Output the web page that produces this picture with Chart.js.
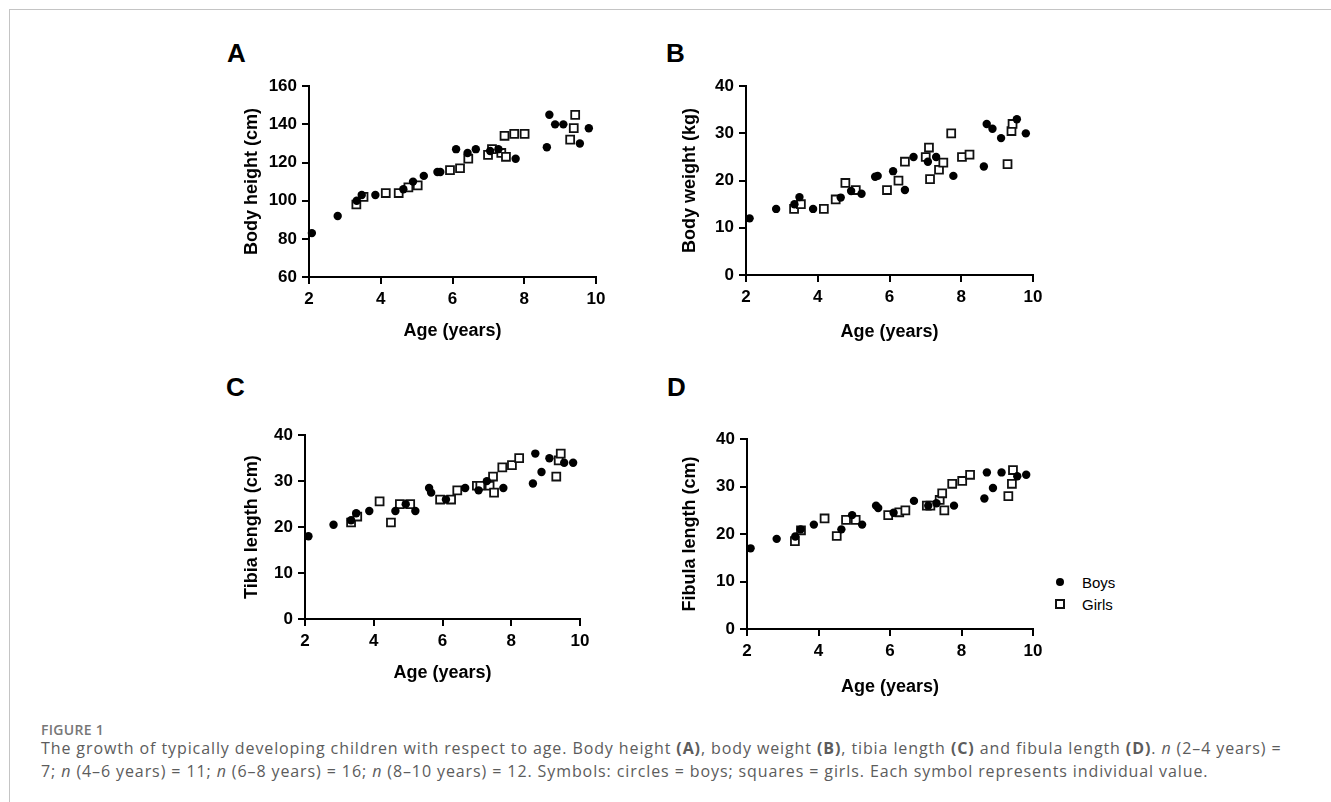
<!DOCTYPE html>
<html>
<head>
<meta charset="utf-8">
<script src="https://cdn.jsdelivr.net/npm/chart.js@4.4.1/dist/chart.umd.min.js"></script>
<style>
    html, body { margin: 0; padding: 0; background: #fff; }
    #page { position: relative; width: 1331px; height: 802px; overflow: hidden; font-family: "Liberation Sans", Arial, sans-serif; }
    .frame { position: absolute; left: 9px; top: 9px; right: -5px; bottom: -5px; border-left: 1px solid #c4c4c4; border-top: 1px solid #c4c4c4; }
    .panel { position: absolute; }
    .letter { position: absolute; font: bold 26px/26px "Liberation Sans", Arial, sans-serif; color: #000; }
    .legend-item { position: absolute; left: 1082px; font: 15px/15px "Liberation Sans", Arial, sans-serif; color: #000; }
    .marker { position: absolute; }
    .marker.circle { width: 8px; height: 8px; border-radius: 50%; background: #000; }
    .marker.square { width: 6px; height: 6px; border: 2px solid #111; background: #fff; }
    .caption { position: absolute; left: 41px; font-family: "Open Sans", sans-serif; }
    .caption-head { top: 723px; font-size: 14px; line-height: 14px; font-weight: 600; color: #777; letter-spacing: 0.3px; }
    .caption-body { top: 737px; font-size: 16px; line-height: 23px; color: #5c5c5c; white-space: nowrap; letter-spacing: 0.9px; }
</style>
</head>
<body>
<div id="page">
    <div class="frame"></div>
</div>
<script>
(() => {
    const ageTicks = [2, 4, 6, 8, 10];
    const heightTicks = [60, 80, 100, 120, 140, 160];
    const weightTicks = [0, 10, 20, 30, 40];
    const lengthTicks = [0, 10, 20, 30, 40];

    const heightBoys = [[2.08, 83], [2.8, 92], [3.33, 100], [3.47, 103], [3.85, 103], [4.63, 106], [4.9, 110],
        [5.2, 113], [5.58, 115], [5.66, 115], [6.1, 127], [6.42, 125], [6.65, 127], [7.05, 126], [7.28, 127],
        [7.76, 122], [8.63, 128], [8.7, 145], [8.86, 140], [9.09, 140], [9.55, 130], [9.8, 138]];
    const heightGirls = [[3.32, 98], [3.52, 102], [4.14, 104], [4.5, 104], [4.77, 107], [5.03, 108], [5.93, 116],
        [6.21, 117], [6.44, 122], [6.99, 124], [7.1, 127], [7.36, 125], [7.49, 123], [7.45, 134], [7.72, 135],
        [8.01, 135], [9.28, 132], [9.38, 138], [9.42, 145]];

    const weightBoys = [[2.1, 12], [2.84, 14], [3.35, 15], [3.49, 16.5], [3.87, 14], [4.64, 16.4], [4.93, 17.8],
        [5.22, 17.2], [5.6, 20.8], [5.67, 21], [6.1, 22], [6.43, 18], [6.67, 25], [7.07, 24], [7.3, 25],
        [7.78, 21], [8.63, 23], [8.71, 32], [8.87, 31], [9.11, 29], [9.55, 33], [9.8, 30]];
    const weightGirls = [[3.34, 14], [3.53, 15], [4.17, 14], [4.5, 16], [4.77, 19.5], [5.06, 18], [5.93, 18],
        [6.25, 20], [6.43, 24], [7.01, 25], [7.1, 27], [7.13, 20.3], [7.38, 22.3], [7.5, 23.8], [7.72, 30],
        [8.02, 25], [8.23, 25.5], [9.29, 23.5], [9.4, 30.5], [9.43, 32]];

    const tibiaBoys = [[2.1, 18], [2.83, 20.5], [3.34, 21.5], [3.49, 23], [3.87, 23.5], [4.63, 23.5], [4.93, 25],
        [5.21, 23.5], [5.61, 28.5], [5.67, 27.5], [6.1, 26], [6.66, 28.5], [7.05, 28], [7.29, 30], [7.77, 28.5],
        [8.63, 29.5], [8.7, 36], [8.88, 32], [9.11, 35], [9.54, 34], [9.8, 34]];
    const tibiaGirls = [[3.34, 21], [3.52, 22.3], [4.17, 25.6], [4.5, 21], [4.76, 25], [5.06, 25], [5.93, 26],
        [6.25, 26], [6.43, 28], [7.0, 29], [7.1, 29], [7.37, 29], [7.47, 31], [7.5, 27.5], [7.74, 33],
        [8.02, 33.5], [8.23, 35], [9.31, 31], [9.38, 34.5], [9.44, 36]];

    const fibulaBoys = [[2.1, 17], [2.83, 19], [3.35, 19.5], [3.5, 21], [3.87, 22], [4.64, 21], [4.94, 24],
        [5.22, 22], [5.61, 26], [5.67, 25.5], [6.1, 24.5], [6.67, 27], [7.07, 26], [7.3, 26.5], [7.79, 26],
        [8.64, 27.5], [8.71, 33], [8.88, 29.7], [9.12, 33], [9.56, 32.2], [9.81, 32.5]];
    const fibulaGirls = [[3.34, 18.5], [3.51, 20.8], [4.17, 23.3], [4.51, 19.6], [4.77, 23], [5.04, 23], [5.95, 24],
        [6.26, 24.6], [6.43, 25], [7.03, 26], [7.13, 26], [7.39, 27.2], [7.46, 28.6], [7.52, 25], [7.74, 30.6],
        [8.02, 31.2], [8.24, 32.5], [9.31, 28], [9.41, 30.6], [9.44, 33.5]];

    const seriesLabels = ["Boys", "Girls"];
    const xTitle = "Age (years)";

    // where each plot box sits on the page
    const panels = [
        { letter: "A", boys: heightBoys, girls: heightGirls, yTicks: heightTicks, yTitle: "Body height (cm)",
          yTitleX: 252, plotLeft: 309, plotRight: 596, plotTop: 85, plotBottom: 277, xTitleY: 331, letterX: 227, letterY: 40 },
        { letter: "B", boys: weightBoys, girls: weightGirls, yTicks: weightTicks, yTitle: "Body weight (kg)",
          yTitleX: 690, plotLeft: 746, plotRight: 1033, plotTop: 85, plotBottom: 275, xTitleY: 332, letterX: 666, letterY: 40 },
        { letter: "C", boys: tibiaBoys, girls: tibiaGirls, yTicks: lengthTicks, yTitle: "Tibia length (cm)",
          yTitleX: 252, plotLeft: 305, plotRight: 580, plotTop: 434, plotBottom: 619, xTitleY: 673, letterX: 226, letterY: 374 },
        { letter: "D", boys: fibulaBoys, girls: fibulaGirls, yTicks: lengthTicks, yTitle: "Fibula length (cm)",
          yTitleX: 690, plotLeft: 747, plotRight: 1033, plotTop: 438, plotBottom: 629, xTitleY: 687, letterX: 667, letterY: 374 },
    ];

    const page = document.getElementById("page");
    const tickFont = { family: "'Liberation Sans', Arial, sans-serif", size: 17, weight: "bold" };
    const titleFont = { family: "'Liberation Sans', Arial, sans-serif", size: 18, weight: "bold" };

    const toPoints = (pairs) => pairs.map(([x, y]) => ({ x, y }));

    const axis = (ticks, title, fit) => ({
        type: "linear",
        min: ticks[0],
        max: ticks[ticks.length - 1],
        ticks: { stepSize: ticks[1] - ticks[0], color: "#000", font: tickFont, padding: 5 },
        grid: { drawOnChartArea: false, drawTicks: true, tickLength: 7, color: "#000", lineWidth: 2 },
        border: { display: true, color: "#000", width: 2 },
        title: { display: true, text: title, color: "#000", font: titleFont, padding: 0 },
        afterFit: fit
    });

    const createPanel = (p) => {
        const left = Math.round(p.yTitleX - 10.8);
        const top = p.plotTop - 14;
        const width = p.plotRight + 18 - left;
        const height = Math.round(p.xTitleY + 10.8) - top;

        page.insertAdjacentHTML("beforeend",
            `<div class="letter" style="left:${p.letterX}px;top:${p.letterY}px">${p.letter}</div>
             <canvas class="panel" id="chart${p.letter}" width="${width}" height="${height}"
                 style="left:${left}px;top:${top}px;width:${width}px;height:${height}px"></canvas>`);

        new Chart(document.getElementById(`chart${p.letter}`), {
            type: "scatter",
            data: {
                datasets: [{
                    label: seriesLabels[0],
                    data: toPoints(p.boys),
                    pointStyle: "circle",
                    pointRadius: 4.2,
                    backgroundColor: "#000",
                    borderColor: "#000",
                    borderWidth: 0,
                    clip: false
                }, {
                    label: seriesLabels[1],
                    data: toPoints(p.girls),
                    pointStyle: "rect",
                    pointRadius: 5.6,
                    backgroundColor: "#fff",
                    borderColor: "#111",
                    borderWidth: 1.8,
                    clip: false
                }]
            },
            options: {
                responsive: false,
                animation: false,
                events: [],
                layout: { padding: { top: p.plotTop - top, right: 18, left: 0, bottom: 0 } },
                plugins: { legend: { display: false }, tooltip: { enabled: false } },
                scales: {
                    x: axis(ageTicks, xTitle, (scale) => { scale.height = height - (p.plotBottom - top); }),
                    y: axis(p.yTicks, p.yTitle, (scale) => { scale.width = p.plotLeft - left; })
                }
            }
        });
    };

    panels.forEach(createPanel);

    // legend next to panel D, then the figure caption
    page.insertAdjacentHTML("beforeend",
        `<div class="marker circle" style="left:1056px;top:578px"></div>
         <div class="legend-item" style="top:575px">${seriesLabels[0]}</div>
         <div class="marker square" style="left:1055px;top:599px"></div>
         <div class="legend-item" style="top:597px">${seriesLabels[1]}</div>
         <div class="caption caption-head">FIGURE 1</div>
         <div class="caption caption-body">The growth of typically developing children with respect to age. Body height <b>(A)</b>, body weight <b>(B)</b>, tibia length <b>(C)</b> and fibula length <b>(D)</b>. <i>n</i> (2–4 years) =<br>7; <i>n</i> (4–6 years) = 11; <i>n</i> (6–8 years) = 16; <i>n</i> (8–10 years) = 12. Symbols: circles = boys; squares = girls. Each symbol represents individual value.</div>`);
})();
</script>
</body>
</html>
